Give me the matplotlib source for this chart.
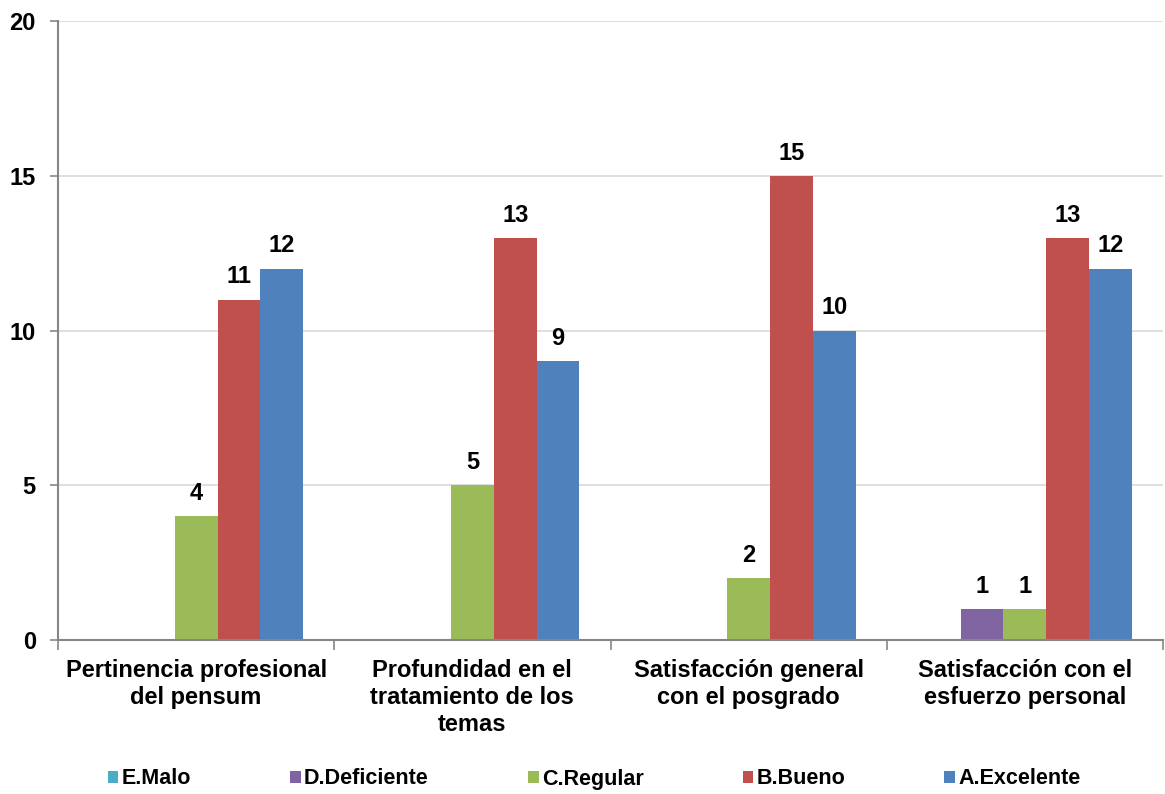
import matplotlib.pyplot as plt
import numpy as np
from matplotlib.patches import Patch

plt.rcParams["font.family"] = ["Liberation Sans", "DejaVu Sans"]

categorias = [
    "Pertinencia profesional\ndel pensum",
    "Profundidad en el\ntratamiento de los\ntemas",
    "Satisfacción general\ncon el posgrado",
    "Satisfacción con el\nesfuerzo personal",
]
series = ["E.Malo", "D.Deficiente", "C.Regular", "B.Bueno", "A.Excelente"]
colores = ["#4BACC6", "#8064A2", "#9BBB59", "#C0504D", "#4F81BD"]

e_malo = [0, 0, 0, 0]
d_deficiente = [0, 0, 0, 1]
c_regular = [4, 5, 2, 1]
b_bueno = [11, 13, 15, 13]
a_excelente = [12, 9, 10, 12]
valores = [e_malo, d_deficiente, c_regular, b_bueno, a_excelente]

fig = plt.figure(figsize=(11.65, 7.94), dpi=100)
ax = fig.add_axes([58 / 1165, 1 - 640 / 794, 1105 / 1165, 619 / 794])

x = np.arange(len(categorias))
ancho = 0.155
for k, (nombre, vals, col) in enumerate(zip(series, valores, colores)):
    pos = x + (k - 2) * ancho
    ax.bar(pos, vals, width=ancho, color=col, edgecolor="none", zorder=2)
    for xi, v in zip(pos, vals):
        if v > 0:
            ax.annotate(str(v), (xi, v), textcoords="offset points",
                        xytext=(0, 8), ha="center", va="bottom",
                        fontsize=17, fontweight="bold")

ax.set_xlim(-0.5, len(categorias) - 0.5)
ax.set_ylim(0, 20)
ax.set_yticks([0, 5, 10, 15, 20])
ax.grid(axis="y", color="#D9D9D9", lw=1.2, zorder=0)
ax.set_axisbelow(True)
for s in ["top", "right"]:
    ax.spines[s].set_visible(False)
for s in ["left", "bottom"]:
    ax.spines[s].set_color("#868686")
    ax.spines[s].set_linewidth(1.5)
ax.tick_params(axis="y", length=6, color="#868686", width=1.2,
               labelsize=17, pad=10)
for lab in ax.get_yticklabels():
    lab.set_fontweight("bold")

# separadores de categoría como ticks menores
ax.set_xticks(np.arange(len(categorias) + 1) - 0.5, minor=True)
ax.set_xticks(x)
ax.set_xticklabels(categorias, fontsize=17, fontweight="bold", linespacing=1.22)
ax.tick_params(axis="x", which="major", length=0, pad=14)
ax.tick_params(axis="x", which="minor", length=7, color="#868686", width=1.2)

handles = [Patch(facecolor=c, label=n) for n, c in zip(series, colores)]
fig.legend(handles=handles, loc="center", bbox_to_anchor=(0.51, 1 - 779 / 794),
           ncol=5, frameon=False, handlelength=0.5, handleheight=0.5,
           handletextpad=0.15, columnspacing=4.6,
           prop={"weight": "bold", "size": 15.5})

fig.savefig("out.png", dpi=100)
